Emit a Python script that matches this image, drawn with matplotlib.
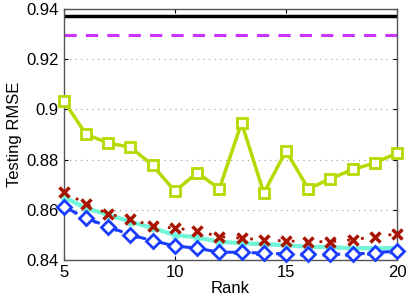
import numpy as np
import matplotlib.pyplot as plt

plt.rcParams['font.family'] = ['Liberation Sans', 'DejaVu Sans']

rank = np.arange(5, 21)

top_black = 0.9372
top_magenta = 0.9296

green = [0.9034, 0.8901, 0.8866, 0.8850, 0.8777, 0.8674, 0.8748, 0.8684,
         0.8947, 0.8667, 0.8835, 0.8684, 0.8724, 0.8761, 0.8787, 0.8827]
red = [0.8673, 0.8623, 0.8584, 0.8563, 0.8536, 0.8527, 0.8517, 0.8493,
       0.8487, 0.8480, 0.8476, 0.8473, 0.8473, 0.8481, 0.8493, 0.8504]
cyan = [0.8651, 0.8607, 0.8580, 0.8553, 0.8527, 0.8500, 0.8490, 0.8473,
        0.8467, 0.8463, 0.8459, 0.8453, 0.8451, 0.8447, 0.8447, 0.8447]
blue_dot = [0.8610, 0.8565, 0.8530, 0.8497, 0.8474, 0.8453, 0.8443, 0.8428,
            0.8425, 0.8421, 0.8419, 0.8418, 0.8418, 0.8419, 0.8424, 0.8430]
blue = [0.8613, 0.8567, 0.8533, 0.8500, 0.8477, 0.8456, 0.8447, 0.8431,
        0.8431, 0.8427, 0.8424, 0.8423, 0.8423, 0.8423, 0.8429, 0.8436]

fig = plt.figure(figsize=(4.09, 3.05), dpi=100)
ax = fig.add_axes([0.156, 0.1475, 0.815, 0.8225])

ax.axhline(top_black, color='black', lw=2.5)
ax.axhline(top_magenta, color='#cc33ff', lw=2.2, ls=(0, (4, 3)))
ax.plot(rank, green, color='#b8d800', lw=2.5, marker='s', ms=7,
        mfc='white', mew=2, clip_on=False, zorder=3)
ax.plot(rank, cyan, color='#70f5d8', lw=3, marker='^', ms=5,
        clip_on=False, zorder=3)
ax.plot(rank, red, color='#a81400', lw=2, ls=(0, (1, 4)), marker='x',
        ms=6.5, mew=2.5, clip_on=False, zorder=3)
ax.plot(rank, blue_dot, color='#3366ff', lw=2, ls=(0, (1, 3)), zorder=3)
ax.plot(rank, blue, color='#1a3cff', lw=2.2, ls=(0, (5, 3)), marker='D',
        ms=7, mfc='white', mew=2, clip_on=False, zorder=4)

ax.set_xlim(5, 20)
ax.set_ylim(0.84, 0.94)
ax.set_xticks([5, 10, 15, 20])
ax.set_yticks([0.84, 0.86, 0.88, 0.9, 0.92, 0.94])
ax.set_yticklabels(['0.84', '0.86', '0.88', '0.9', '0.92', '0.94'])
ax.tick_params(direction='in', top=True, right=True, labelsize=12, length=3)
ax.yaxis.grid(True, ls=(0, (1, 4)), color='#999999', lw=0.8)
for s in ax.spines.values():
    s.set_color('#555555')
    s.set_linewidth(1.0)
ax.set_xlabel('Rank', fontsize=12, labelpad=1)
ax.set_ylabel('Testing RMSE', fontsize=12, labelpad=3)

fig.savefig('out.png', dpi=100)
